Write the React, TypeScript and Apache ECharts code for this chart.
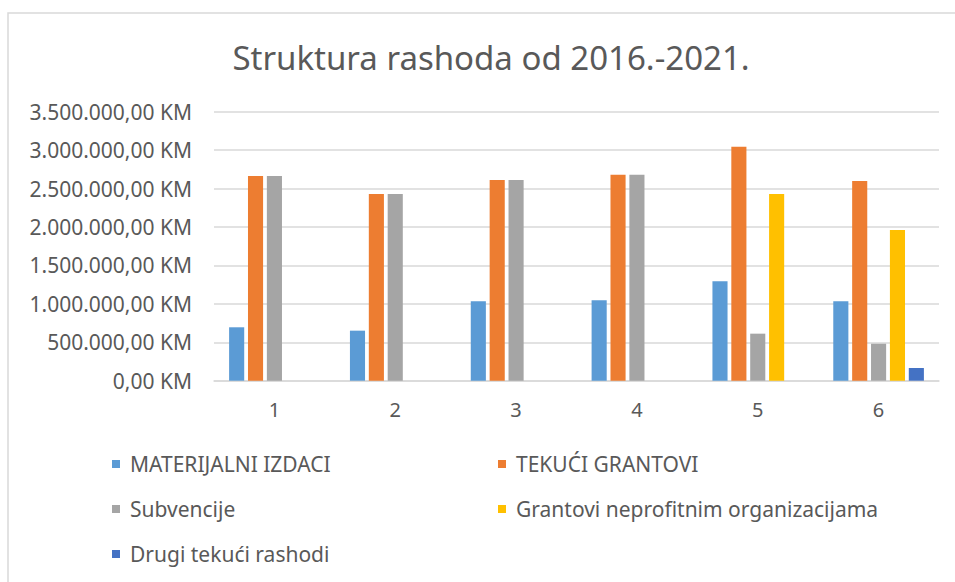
import React, { useEffect, useRef } from "react";
import * as echarts from "echarts";

const categories = ["1", "2", "3", "4", "5", "6"];
const seriesNames = [
  "MATERIJALNI IZDACI",
  "TEKUĆI GRANTOVI",
  "Subvencije",
  "Grantovi neprofitnim organizacijama",
  "Drugi tekući rashodi",
];
const materijalniIzdaci = [695000, 651000, 1033000, 1046000, 1293000, 1033000];
const tekuciGrantovi = [2663000, 2429000, 2611000, 2680000, 3045000, 2598000];
const subvencije = [2663000, 2429000, 2611000, 2680000, 612000, 481000];
const grantoviNeprofitnim = [null, null, null, null, 2429000, 1961000];
const drugiTekuci = [null, null, null, null, null, 165000];
const colors = ["#5B9BD5", "#ED7D31", "#A5A5A5", "#FFC000", "#4472C4"];

function fmtKM(v: number): string {
  const int = Math.round(v).toString().replace(/\B(?=(\d{3})+(?!\d))/g, ".");
  return int + ",00 KM";
}

export default function App() {
  const ref = useRef<HTMLDivElement>(null);
  useEffect(() => {
    document.body.style.margin = "0";
    const chart = echarts.init(ref.current!, null, { renderer: "svg" });
    const dataSets = [materijalniIzdaci, tekuciGrantovi, subvencije, grantoviNeprofitnim, drugiTekuci];
    const legendPos = [
      { left: 112, top: 453 },
      { left: 498, top: 453 },
      { left: 112, top: 498 },
      { left: 498, top: 498 },
      { left: 112, top: 543 },
    ];
    const font = "'Noto Sans', sans-serif";
    chart.setOption({
      animation: false,
      backgroundColor: "#ffffff",
      textStyle: { fontFamily: font },
      title: {
        text: "Struktura rashoda od 2016.-2021.",
        left: 486,
        top: 36,
        textAlign: "center",
        textStyle: { fontSize: 33, fontWeight: "normal", color: "#595959", fontFamily: font },
      },
      graphic: [
        {
          type: "rect",
          shape: { x: 8, y: 13, width: 1200, height: 1200 },
          style: { fill: "none", stroke: "#d9d9d9", lineWidth: 1.5 },
          silent: true,
        },
      ],
      legend: legendPos.map((p, i) => ({
        data: [seriesNames[i]],
        left: p.left,
        top: p.top,
        orient: "horizontal",
        icon: "rect",
        itemWidth: 8,
        itemHeight: 8,
        selectedMode: false,
        padding: 0,
        textStyle: { fontSize: 21, color: "#595959", fontFamily: font, lineHeight: 22, padding: [0, 0, 0, 5] },
      })),
      grid: { left: 214, right: 16, top: 111.7, bottom: 201.3 },
      xAxis: {
        type: "category",
        data: categories,
        axisTick: { show: false },
        axisLine: { lineStyle: { color: "#d9d9d9", width: 1.5 } },
        axisLabel: { color: "#595959", fontSize: 20, margin: 19, fontFamily: font },
      },
      yAxis: {
        type: "value",
        min: 0,
        max: 3500000,
        interval: 500000,
        axisLine: { show: false },
        axisTick: { show: false },
        splitLine: { lineStyle: { color: "#d9d9d9", width: 1.5 } },
        axisLabel: { color: "#595959", fontSize: 21, margin: 22, fontFamily: font, formatter: (v: number) => fmtKM(v) },
      },
      series: dataSets.map((d, i) => ({
        name: seriesNames[i],
        type: "bar",
        data: d,
        itemStyle: { color: colors[i] },
        barGap: "25%",
        barCategoryGap: "25%",
      })),
    });
    return () => chart.dispose();
  }, []);
  return <div ref={ref} style={{ width: 955, height: 582 }} />;
}
